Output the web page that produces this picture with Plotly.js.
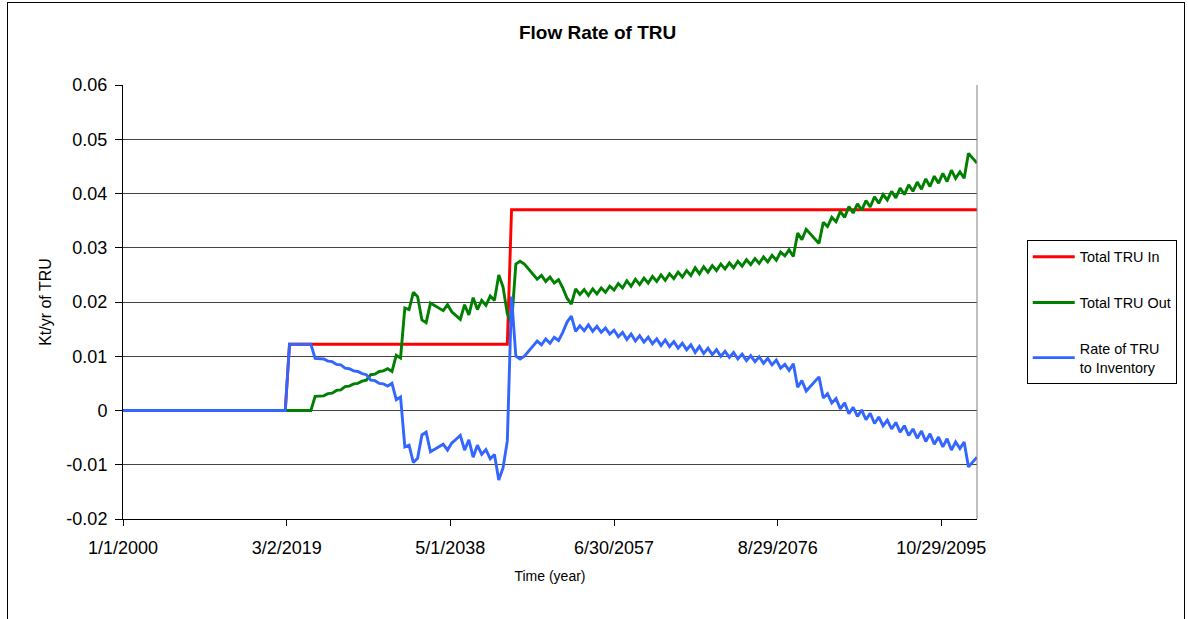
<!DOCTYPE html>
<html>
<head>
<meta charset="utf-8">
<script src="https://cdn.plot.ly/plotly-3.0.1.min.js"></script>
<style>
  html, body { margin: 0; padding: 0; background: #fff; }
  #wrap { position: relative; width: 1188px; height: 619px; overflow: hidden; }
  #chart { width: 1188px; height: 619px; }
  #frame { position: absolute; left: 7px; top: 2px; width: 1178px; height: 700px;
           border: 1px solid #000; pointer-events: none; box-sizing: border-box; }
</style>
</head>
<body>
<div id="wrap"><div id="chart"></div><div id="frame"></div></div>
<script>
// ---- data ----
const startYear = 2000;   // half-year samples from 2000.0 to 2100.0
const nSamples = 201;

// Total TRU In (step series)
const inDates  = ['2000-01-01', '2019-01-01', '2019-07-01', '2045-01-01', '2045-07-01', '2100-01-01'];
const inValues = [0, 0, 0.0122, 0.0122, 0.037, 0.037];

// Total TRU Out, half-year samples 2000.0 .. 2100.0
const totalOut = [
  0,0,0,0,0,0,0,0,0,0, 0,0,0,0,0,0,0,0,0,0,
  0,0,0,0,0,0,0,0,0,0, 0,0,0,0,0,0,0,0,0,0,
  0,0,0,0,0,
  .0026,.0026,.0027,.0031,.0032,.0037,.0038,.0044,.0045,.0049,
  .0050,.0054,.0056,.0066,.0067,.0072,.0073,.0077,.0072,.0102,
  .0097,.0189,.0186,.0218,.0210,.0167,.0162,.0198,.0193,.0188,
  .0184,.0195,.0182,.0175,.0168,.0195,.0176,.0208,.0186,.0203,
  .0194,.0211,.0203,.0250,.0228,.0178,.0160,.0270,.0275,.0270,
  .0260,.0251,.0242,.0249,.0238,.0246,.0235,.0241,.0226,.0207,
  .0196,.0224,.0214,.0223,.0212,.0224,.0215,.0226,.0218,.0229,
  .0222,.0234,.0226,.0239,.0229,.0242,.0232,.0244,.0235,.0247,
  .0238,.0250,.0240,.0252,.0243,.0255,.0246,.0258,.0249,.0263,
  .0252,.0265,.0255,.0267,.0258,.0270,.0261,.0272,.0263,.0275,
  .0266,.0278,.0269,.0280,.0271,.0283,.0274,.0286,.0277,.0292,
  .0285,.0296,.0284,.0327,.0315,.0334,.0325,.0318,.0308,.0347,
  .0339,.0356,.0348,.0367,.0356,.0376,.0364,.0381,.0369,.0387,
  .0375,.0394,.0382,.0398,.0388,.0404,.0392,.0410,.0398,.0416,
  .0404,.0421,.0408,.0427,.0413,.0432,.0419,.0437,.0422,.0443,
  .0428,.0440,.0428,.0474,.0465,.0456
];

// Rate of TRU to Inventory, half-year samples 2000.0 .. 2100.0
const toInventory = [
  0,0,0,0,0,0,0,0,0,0, 0,0,0,0,0,0,0,0,0,0,
  0,0,0,0,0,0,0,0,0,0, 0,0,0,0,0,0,0,0,0,
  .0122,.0122,.0122,.0122,.0122,.0122,
  .0096,.0096,.0095,.0091,.0090,.0085,.0084,.0078,.0077,.0073,
  .0072,.0068,.0066,.0056,.0055,.0050,.0049,.0045,.0050,.0020,
  .0025,-.0067,-.0064,-.0096,-.0088,-.0045,-.0040,-.0076,-.0071,-.0066,
  -.0062,-.0073,-.0060,-.0053,-.0046,-.0073,-.0054,-.0086,-.0064,-.0081,
  -.0072,-.0089,-.0081,-.0128,-.0106,-.0056,.0210,.0100,.0095,.0100,
  .0110,.0119,.0128,.0121,.0132,.0124,.0135,.0129,.0144,.0163,
  .0174,.0146,.0156,.0147,.0158,.0146,.0155,.0144,.0152,.0141,
  .0148,.0136,.0144,.0131,.0141,.0128,.0138,.0126,.0135,.0123,
  .0132,.0120,.0130,.0118,.0127,.0115,.0124,.0112,.0121,.0107,
  .0118,.0105,.0115,.0103,.0112,.0100,.0109,.0098,.0107,.0095,
  .0104,.0092,.0101,.0090,.0099,.0087,.0096,.0084,.0093,.0078,
  .0085,.0074,.0086,.0043,.0055,.0036,.0045,.0052,.0062,.0023,
  .0031,.0014,.0022,.0003,.0014,-.0006,.0006,-.0011,.0001,-.0017,
  -.0005,-.0024,-.0012,-.0028,-.0018,-.0034,-.0022,-.0040,-.0028,-.0046,
  -.0034,-.0051,-.0038,-.0057,-.0043,-.0062,-.0049,-.0067,-.0052,-.0073,
  -.0058,-.0070,-.0058,-.0104,-.0095,-.0086
];

const xTickVals = ['2000-01-01', '2019-03-02', '2038-05-01', '2057-06-30', '2076-08-29', '2095-10-29'];
const xTickText = ['1/1/2000', '3/2/2019', '5/1/2038', '6/30/2057', '8/29/2076', '10/29/2095'];
const yTickVals = [-0.02, -0.01, 0, 0.01, 0.02, 0.03, 0.04, 0.05, 0.06];
const yTickText = ['-0.02', '-0.01', '0', '0.01', '0.02', '0.03', '0.04', '0.05', '0.06'];

// half-year date categories
const halfYearDates = [];
for (let k = 0; k < nSamples; k++) {
  const y = startYear + Math.floor(k / 2);
  halfYearDates.push(y + (k % 2 === 0 ? '-01-01' : '-07-01'));
}

const FONT = 'Liberation Sans, Arial, sans-serif';

const traces = [
  { x: inDates, y: inValues, type: 'scatter', mode: 'lines', name: 'Total TRU In',
    legendgroup: 'a', line: { color: '#FF0000', width: 2.9 } },
  { x: halfYearDates, y: totalOut, type: 'scatter', mode: 'lines', name: 'Total TRU Out',
    legendgroup: 'b', line: { color: '#008000', width: 2.9 } },
  { x: halfYearDates, y: toInventory, type: 'scatter', mode: 'lines', name: 'Rate of TRU<br>to Inventory',
    legendgroup: 'c', line: { color: '#3366FF', width: 2.9 } }
];

const layout = {
  width: 1188, height: 619,
  margin: { l: 123, r: 210, t: 85, b: 100 },
  paper_bgcolor: '#fff', plot_bgcolor: '#fff',
  font: { family: FONT, color: '#000' },
  title: { text: '<b>Flow Rate of TRU</b>', font: { family: FONT, size: 19, color: '#000' },
           xref: 'container', x: 0.503, yref: 'container', y: 0.947, yanchor: 'middle' },
  xaxis: {
    type: 'date', range: ['2000-01-01', '2100-01-01'],
    tickmode: 'array', tickvals: xTickVals, ticktext: xTickText,
    ticks: 'outside', ticklen: 6, tickcolor: '#000', tickwidth: 1,
    ticklabelstandoff: 6,
    showline: true, linecolor: '#000', linewidth: 1,
    showgrid: false, zeroline: false,
    tickfont: { family: FONT, size: 18, color: '#000' },
    title: { text: 'Time (year)', font: { family: FONT, size: 14, color: '#000' }, standoff: 14 }
  },
  yaxis: {
    range: [-0.02, 0.06],
    tickmode: 'array', tickvals: yTickVals, ticktext: yTickText,
    ticks: 'outside', ticklen: 7, tickcolor: '#000', tickwidth: 1,
    ticklabelstandoff: 4,
    showline: true, linecolor: '#000', linewidth: 1,
    showgrid: true, gridcolor: '#444', gridwidth: 1, zeroline: false,
    tickfont: { family: FONT, size: 18, color: '#000' },
    title: { text: 'Kt/yr of TRU', font: { family: FONT, size: 16, color: '#000' }, standoff: 10 }
  },
  shapes: [
    { type: 'line', xref: 'paper', yref: 'paper', x0: 1, x1: 1, y0: 0, y1: 1,
      line: { color: '#808080', width: 1 } }
  ],
  showlegend: true,
  legend: {
    x: 1.057, y: 0.643, xanchor: 'left', yanchor: 'top',
    bordercolor: '#000', borderwidth: 1, bgcolor: '#fff',
    font: { family: FONT, size: 14.4, color: '#000' },
    traceorder: 'grouped', tracegroupgap: 24, itemwidth: 42
  }
};

Plotly.newPlot('chart', traces, layout, { staticPlot: true, displayModeBar: false });
</script>
</body>
</html>
